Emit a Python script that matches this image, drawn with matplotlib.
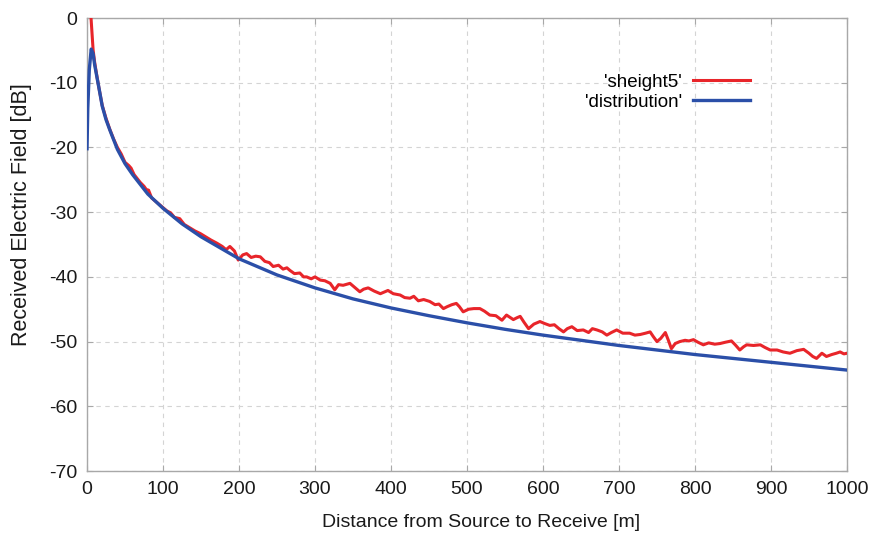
import matplotlib
matplotlib.use("Agg")
import matplotlib.pyplot as plt

plt.rcParams["font.family"] = ["Liberation Sans", "DejaVu Sans"]
plt.rcParams["axes.unicode_minus"] = False

# 'distribution' -- smooth model curve
dist_x = [0, 1, 3, 5.5, 8, 10, 13, 16, 20, 25, 30, 40, 50, 60, 80, 100, 125, 150,
          175, 200, 250, 300, 350, 400, 450, 500, 550, 600, 650, 700, 750, 800,
          850, 900, 950, 1000]
dist_y = [-20.2, -14.0, -8.0, -4.8, -5.5, -7.2, -9.1, -11.0, -13.6, -15.7, -17.3,
          -20.3, -22.5, -24.2, -27.2, -29.4, -31.8, -33.8, -35.5, -37.2, -39.7,
          -41.7, -43.4, -44.8, -46.0, -47.1, -48.1, -49.0, -49.8, -50.6, -51.3,
          -52.0, -52.6, -53.2, -53.8, -54.4]

# 'sheight5' -- measured/simulated field
sh_x = [3, 5, 8, 10, 13, 16, 20, 25, 30, 35, 40, 45, 50, 55, 58, 62, 70, 75, 78, 81,
        85, 90, 95, 100, 105, 110, 115, 122, 128, 135, 142, 149, 156, 163, 171, 178,
        183, 188, 194, 199, 205, 210, 216, 222, 228, 234, 240, 245, 252, 258, 263,
        267, 273, 280, 285, 289, 295, 300, 307, 313, 320, 326, 331, 337, 346, 352,
        359, 364, 370, 378, 386, 392, 396, 403, 412, 418, 425, 430, 436, 443, 451,
        458, 463, 469, 474, 480, 486, 490, 495, 502, 509, 517, 523, 530, 538, 546,
        552, 561, 566, 570, 575, 581, 588, 596, 602, 609, 615, 621, 627, 632, 638,
        645, 653, 660, 665, 671, 678, 684, 690, 697, 705, 714, 721, 728, 735, 741,
        745, 750, 755, 761, 765, 769, 774, 780, 787, 792, 798, 804, 811, 818, 826,
        833, 840, 848, 853, 859, 864, 868, 877, 886, 892, 899, 908, 916, 925, 934,
        943, 950, 955, 960, 967, 973, 980, 986, 991, 996, 1000]
sh_y = [3.0, 0.5, -4.9, -6.8, -9.0, -11.0, -13.5, -15.5, -17.2, -18.7, -20.0, -21.0,
        -22.3, -22.8, -23.2, -24.2, -25.4, -26.0, -26.5, -26.6, -27.8, -28.3, -28.8,
        -29.3, -29.8, -30.1, -30.8, -31.0, -31.9, -32.4, -32.9, -33.3, -33.8, -34.3,
        -34.8, -35.3, -35.8, -35.3, -36.0, -37.4, -36.6, -36.4, -37.0, -36.8, -36.9,
        -37.6, -37.8, -38.4, -38.2, -38.8, -38.6, -39.0, -39.5, -39.4, -40.0, -40.0,
        -40.3, -40.0, -40.5, -40.6, -41.0, -42.0, -41.2, -41.3, -41.0, -41.6, -42.3,
        -41.9, -41.7, -42.2, -42.6, -42.3, -42.1, -42.6, -42.8, -43.2, -43.3, -43.0,
        -43.7, -43.5, -43.8, -44.3, -44.2, -44.9, -44.6, -44.3, -44.1, -44.6, -45.4,
        -45.0, -44.9, -44.9, -45.3, -45.9, -46.0, -46.7, -45.9, -46.6, -46.3, -46.1,
        -47.0, -48.0, -47.3, -46.9, -47.2, -47.5, -47.4, -48.0, -48.5, -48.0, -47.7,
        -48.3, -48.2, -48.6, -48.0, -48.2, -48.5, -49.0, -48.6, -48.2, -48.7, -48.7,
        -49.0, -48.9, -48.7, -48.5, -49.2, -50.0, -49.5, -48.6, -49.8, -51.1, -50.3,
        -50.0, -49.8, -49.9, -49.7, -50.1, -50.5, -50.2, -50.4, -50.3, -50.1, -49.9,
        -50.5, -51.3, -50.8, -50.5, -50.6, -50.5, -50.9, -51.3, -51.3, -51.6, -51.8,
        -51.4, -51.2, -51.8, -52.3, -52.6, -51.8, -52.3, -52.0, -51.8, -51.6, -51.9,
        -51.8]

x_ticks = list(range(0, 1001, 100))
y_ticks = list(range(-70, 1, 10))

fig = plt.figure(figsize=(8.71, 5.38), dpi=100)
ax = fig.add_axes([0.0999, 0.1245, 0.8725, 0.842])

ax.plot(sh_x, sh_y, color="#e8252a", lw=2.2, label="'sheight5'", zorder=3)
ax.plot(dist_x, dist_y, color="#2b4fa8", lw=2.4, label="'distribution'", zorder=4)

ax.set_xlim(0, 1000)
ax.set_ylim(-70, 0)
ax.set_xticks(x_ticks)
ax.set_yticks(y_ticks)
ax.grid(True, color="#d4d4d4", linestyle=(0, (4, 4)), lw=0.8)
for s in ax.spines.values():
    s.set_color("#a8a8a8")
    s.set_linewidth(1.0)
ax.tick_params(direction="in", length=4, color="#a8a8a8", labelsize=14,
               labelcolor="#1a1a1a", top=True, right=True, pad=7)

ax.set_xlabel("Distance from Source to Receive [m]", fontsize=14, color="#1a1a1a")
ax.set_ylabel("Received Electric Field [dB]", fontsize=15.5, color="#1a1a1a")
ax.xaxis.set_label_coords(0.518, -0.095)
ax.yaxis.set_label_coords(-0.072, 0.565)

ax.legend(loc="upper right", bbox_to_anchor=(0.872, 0.877), frameon=False,
          markerfirst=False, handlelength=3.0, fontsize=13.5, labelspacing=0.15,
          handletextpad=0.6, borderpad=0, borderaxespad=0)

fig.savefig("out.png", dpi=100)
